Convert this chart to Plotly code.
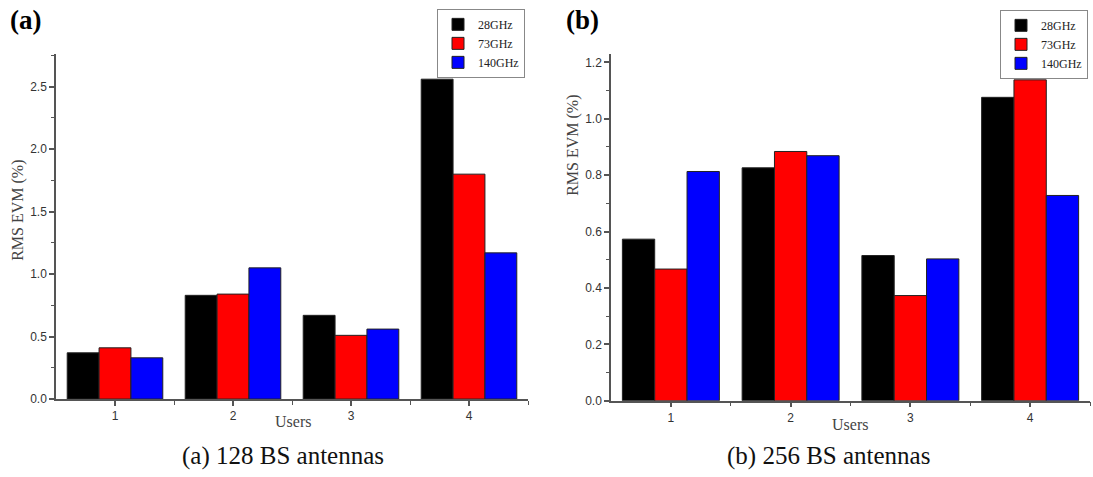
import plotly.graph_objects as go

users = [1, 2, 3, 4]
series_names = ["28GHz", "73GHz", "140GHz"]
series_colors = ["#000000", "#ff0000", "#0000ff"]

# (a) 128 BS antennas
evm_128_28 = [0.37, 0.83, 0.67, 2.56]
evm_128_73 = [0.41, 0.84, 0.51, 1.80]
evm_128_140 = [0.33, 1.05, 0.56, 1.17]

# (b) 256 BS antennas
evm_256_28 = [0.573, 0.826, 0.515, 1.076]
evm_256_73 = [0.467, 0.884, 0.373, 1.138]
evm_256_140 = [0.813, 0.869, 0.503, 0.728]

yticks_a = [0.0, 0.5, 1.0, 1.5, 2.0, 2.5]
yticks_b = [0.0, 0.2, 0.4, 0.6, 0.8, 1.0, 1.2]

W, H = 1093, 477
fig = go.Figure()

for vals, name, col in zip([evm_128_28, evm_128_73, evm_128_140], series_names, series_colors):
    fig.add_trace(go.Bar(x=users, y=vals, name=name, marker=dict(color=col, line=dict(color="#222", width=1)),
                         xaxis="x", yaxis="y", legend="legend"))
for vals, name, col in zip([evm_256_28, evm_256_73, evm_256_140], series_names, series_colors):
    fig.add_trace(go.Bar(x=users, y=vals, name=name, marker=dict(color=col, line=dict(color="#222", width=1)),
                         xaxis="x2", yaxis="y2", legend="legend2"))

tickfont = dict(family="Liberation Sans, Arial", size=12, color="#333")
common_x = dict(range=[0.5, 4.5], tickvals=users, ticktext=[str(u) for u in users],
                showline=True, linecolor="#555", linewidth=1.5, ticks="outside", ticklen=5,
                tickcolor="#555", tickwidth=1.5, showgrid=False, zeroline=False, tickfont=tickfont,
                minor=dict(tickvals=[1.5, 2.5, 3.5, 4.5], ticks="outside", ticklen=4, tickcolor="#555", tickwidth=1.2))
common_y = dict(showline=True, linecolor="#555", linewidth=1.5, ticks="outside", ticklen=5,
                tickcolor="#555", tickwidth=1.5, showgrid=False, zeroline=False, tickfont=tickfont)

legend_font = dict(family="Liberation Serif", size=12, color="#222")
fig.update_layout(
    width=W, height=H, margin=dict(l=0, r=0, t=0, b=0),
    paper_bgcolor="white", plot_bgcolor="white",
    barmode="group", bargap=0.19, bargroupgap=0,
    xaxis=dict(domain=[56 / W, 528 / W], anchor="y", **common_x),
    yaxis=dict(domain=[(H - 405) / H, (H - 55) / H], anchor="x", range=[0, 2.76],
               tickvals=yticks_a, ticktext=[f"{v:.1f}" for v in yticks_a],
               minor=dict(dtick=0.25, tick0=0, ticks="outside", ticklen=3, tickcolor="#555", tickwidth=1.2),
               **common_y),
    xaxis2=dict(domain=[611 / W, 1090 / W], anchor="y2", **common_x),
    yaxis2=dict(domain=[(H - 406.7) / H, (H - 55) / H], anchor="x2", range=[0, 1.229],
                tickvals=yticks_b, ticktext=[f"{v:.1f}" for v in yticks_b],
                minor=dict(dtick=0.1, tick0=0, ticks="outside", ticklen=3, tickcolor="#555", tickwidth=1.2),
                **common_y),
    legend=dict(x=437 / W, y=1 - 9 / H, xanchor="left", yanchor="top", bordercolor="#888", borderwidth=1,
                bgcolor="white", font=legend_font, tracegroupgap=0, itemwidth=30),
    legend2=dict(x=1000 / W, y=1 - 10 / H, xanchor="left", yanchor="top", bordercolor="#888", borderwidth=1,
                 bgcolor="white", font=legend_font, tracegroupgap=0, itemwidth=30),
    showlegend=True,
)

serif = "Liberation Serif, Times New Roman"
ann = [
    dict(text="<b>(a)</b>", x=8 / W, y=1 - 20 / H, xanchor="left", yanchor="middle", font=dict(family=serif, size=27, color="black")),
    dict(text="<b>(b)</b>", x=564 / W, y=1 - 20 / H, xanchor="left", yanchor="middle", font=dict(family=serif, size=27, color="black")),
    dict(text="RMS EVM (%)", x=18 / W, y=1 - 214 / H, textangle=-90, xanchor="center", yanchor="middle", font=dict(family=serif, size=16, color="#444")),
    dict(text="RMS EVM (%)", x=573 / W, y=1 - 148 / H, textangle=-90, xanchor="center", yanchor="middle", font=dict(family=serif, size=16, color="#444")),
    dict(text="Users", x=293 / W, y=1 - 428 / H, xanchor="center", yanchor="middle", font=dict(family=serif, size=16, color="#444")),
    dict(text="Users", x=850 / W, y=1 - 431 / H, xanchor="center", yanchor="middle", font=dict(family=serif, size=16, color="#444")),
    dict(text="(a) 128 BS antennas", x=283 / W, y=1 - 463 / H, xanchor="center", yanchor="middle", font=dict(family=serif, size=25, color="#111")),
    dict(text="(b) 256 BS antennas", x=828 / W, y=1 - 463 / H, xanchor="center", yanchor="middle", font=dict(family=serif, size=25, color="#111")),
]
for a in ann:
    a.update(xref="paper", yref="paper", showarrow=False)
fig.update_layout(annotations=ann)

fig.write_html("out.html")
